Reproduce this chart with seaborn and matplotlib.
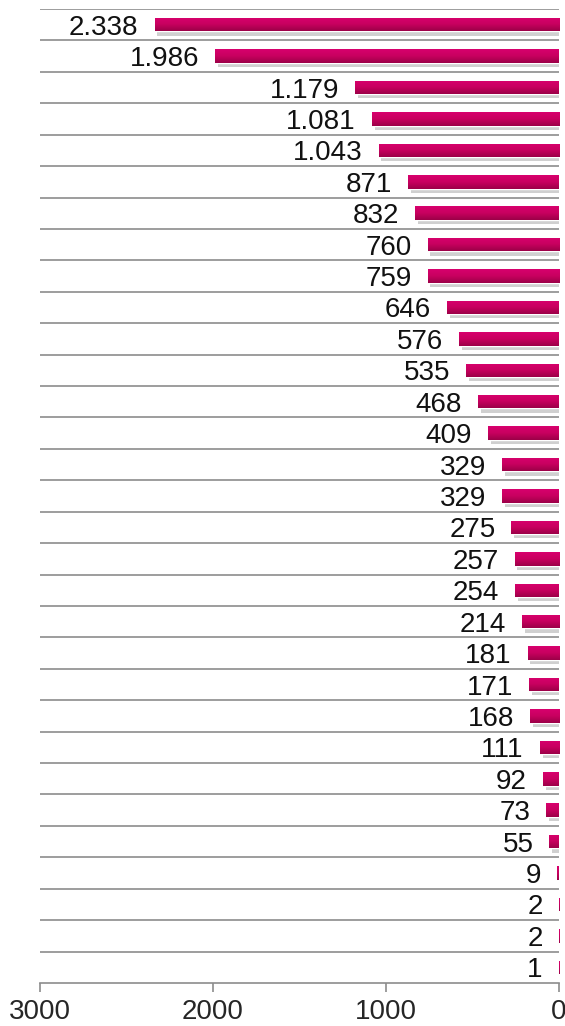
import matplotlib
matplotlib.use('Agg')
import matplotlib.pyplot as plt
import matplotlib.patheffects as pe
from matplotlib.colors import LinearSegmentedColormap
import numpy as np
import pandas as pd
import seaborn as sns

# Dados (de cima para baixo)
categorias = ['Item %02d' % i for i in range(1, 32)]
valores = [2338, 1986, 1179, 1081, 1043, 871, 832, 760, 759, 646, 576, 535,
           468, 409, 329, 329, 275, 257, 254, 214, 181, 171, 168, 111, 92,
           73, 55, 9, 2, 2, 1]
ticks_x = [3000, 2000, 1000, 0]

df = pd.DataFrame({'cat': categorias, 'val': valores})

sns.set_style('white')
plt.rcParams['font.family'] = ['Liberation Sans', 'DejaVu Sans']

fig = plt.figure(figsize=(5.65, 10.26), dpi=100)
ax = fig.add_axes([40 / 565, 1 - 983 / 1026, 519 / 565, 974 / 1026])

sns.barplot(data=df, x='val', y='cat', orient='h', color='#C40062',
            width=0.43, ax=ax, zorder=3)

# Gradiente vertical e sombra nas barras
grad = LinearSegmentedColormap.from_list('g', ['#D8006E', '#C8005F', '#9C0048'])
gy = np.linspace(0, 1, 64).reshape(-1, 1)
for p in ax.patches:
    p.set_path_effects([pe.SimplePatchShadow(offset=(2, -3), shadow_rgbFace='#7a7a7a', alpha=0.35),
                        pe.Normal()])
    x0, y0, w, h = p.get_x(), p.get_y(), p.get_width(), p.get_height()
    im = ax.imshow(gy, cmap=grad, aspect='auto', origin='upper',
                   extent=(x0, x0 + w, y0 + h, y0), zorder=4)
    im.set_clip_path(p)

# Rótulos dos valores
for i, v in enumerate(valores):
    txt = '{:,}'.format(v).replace(',', '.')
    ax.annotate(txt, (v, i), xytext=(-16, -3), textcoords='offset pixels',
                ha='right', va='center', fontsize=20, color='#111111', zorder=5)

# Eixos
ax.set_xlim(3000, 0)
ax.set_ylim(len(valores) - 0.5, -0.5)
ax.set_xticks(ticks_x)
ax.set_xticklabels([str(t) for t in ticks_x], fontsize=20)
ax.set_yticks([])
ax.set_xlabel('')
ax.set_ylabel('')

for yb in np.arange(-0.5, len(valores) - 0.5, 1):
    ax.axhline(yb, color='#8c8c8c', lw=1.2, zorder=1)

for s in ['top', 'left', 'right']:
    ax.spines[s].set_visible(False)
ax.spines['bottom'].set_color('#8c8c8c')
ax.spines['bottom'].set_linewidth(1.2)
ax.tick_params(axis='x', direction='out', length=6.5, width=1.2, color='#8c8c8c',
               pad=5, bottom=True)

plt.savefig('out.png', dpi=100)
